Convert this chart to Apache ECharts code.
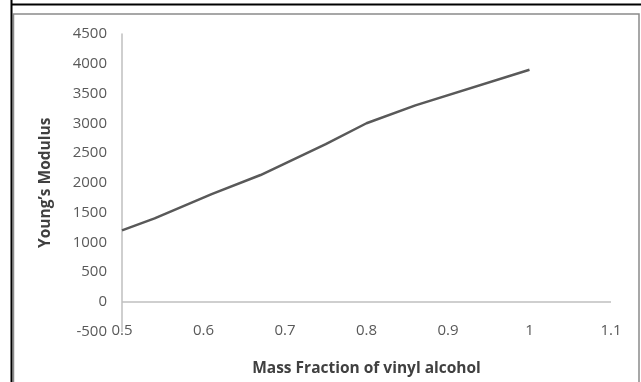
<!DOCTYPE html>
<html>
<head>
<meta charset="utf-8">
<script src="https://cdn.jsdelivr.net/npm/echarts@6/dist/echarts.min.js"></script>
<style>
  html, body { margin: 0; padding: 0; background: #fff; }
  #chart { width: 641px; height: 382px; }
</style>
</head>
<body>
<div id="chart"></div>
<script>
// Mass fraction of vinyl alcohol (x) and Young's modulus (y)
const massFraction = [0.5, 0.54, 0.61, 0.67, 0.75, 0.8, 0.86, 1.0];
const youngsModulus = [1200, 1400, 1810, 2130, 2650, 3000, 3300, 3900];

// Axis ranges and tick steps
const xRange = { min: 0.5, max: 1.1, step: 0.1 };
const yRange = { min: -500, max: 4500, step: 500 };

const xTitle = 'Mass Fraction of vinyl alcohol';
const yTitle = 'Young\u2019s Modulus';

const points = massFraction.map((x, i) => [x, youngsModulus[i]]);

const FONT = '"Open Sans", sans-serif';
const chart = echarts.init(document.getElementById('chart'), null, { renderer: 'canvas' });

chart.setOption({
  animation: false,
  backgroundColor: '#fff',
  grid: { left: 122, right: 30, top: 34, bottom: 50.5, containLabel: false },
  graphic: [
    // outer table rules
    { type: 'line', shape: { x1: 11.5, y1: 0, x2: 11.5, y2: 382 }, style: { stroke: '#000', lineWidth: 2 }, z: 10 },
    { type: 'line', shape: { x1: 11, y1: 4.5, x2: 641, y2: 4.5 }, style: { stroke: '#000', lineWidth: 2 }, z: 10 },
    // chart area border
    { type: 'rect', shape: { x: 13.5, y: 14, width: 625.5, height: 380 }, style: { fill: 'none', stroke: '#8a8a8a', lineWidth: 1.5 }, z: 9 }
  ],
  xAxis: {
    type: 'value',
    min: xRange.min,
    max: xRange.max,
    interval: xRange.step,
    name: xTitle,
    nameLocation: 'middle',
    nameGap: 29,
    nameTextStyle: { fontFamily: FONT, fontSize: 15.5, fontWeight: 'bold', color: '#404040' },
    axisLine: { show: false },
    axisTick: { show: false },
    splitLine: { show: false },
    axisLabel: {
      fontFamily: FONT, fontSize: 15, color: '#595959', margin: -8,
      formatter: v => String(Math.round(v * 10) / 10)
    }
  },
  yAxis: {
    type: 'value',
    min: yRange.min,
    max: yRange.max,
    interval: yRange.step,
    name: yTitle,
    nameLocation: 'middle',
    nameGap: 68,
    nameRotate: 90,
    nameTextStyle: { fontFamily: FONT, fontSize: 15.5, fontWeight: 'bold', color: '#404040' },
    axisLine: { show: true, lineStyle: { color: '#bfbfbf', width: 1.5 } },
    axisTick: { show: false },
    splitLine: { show: false },
    axisLabel: { fontFamily: FONT, fontSize: 15, color: '#595959', margin: 15, formatter: v => String(v) }
  },
  series: [{
    type: 'line',
    data: points,
    showSymbol: false,
    lineStyle: { color: '#595959', width: 2.5 },
    markLine: {
      silent: true,
      symbol: 'none',
      label: { show: false },
      lineStyle: { color: '#bfbfbf', width: 1.5, type: 'solid' },
      data: [[{ coord: [xRange.min, 0] }, { coord: [xRange.max, 0] }]]
    }
  }]
});
</script>
</body>
</html>
